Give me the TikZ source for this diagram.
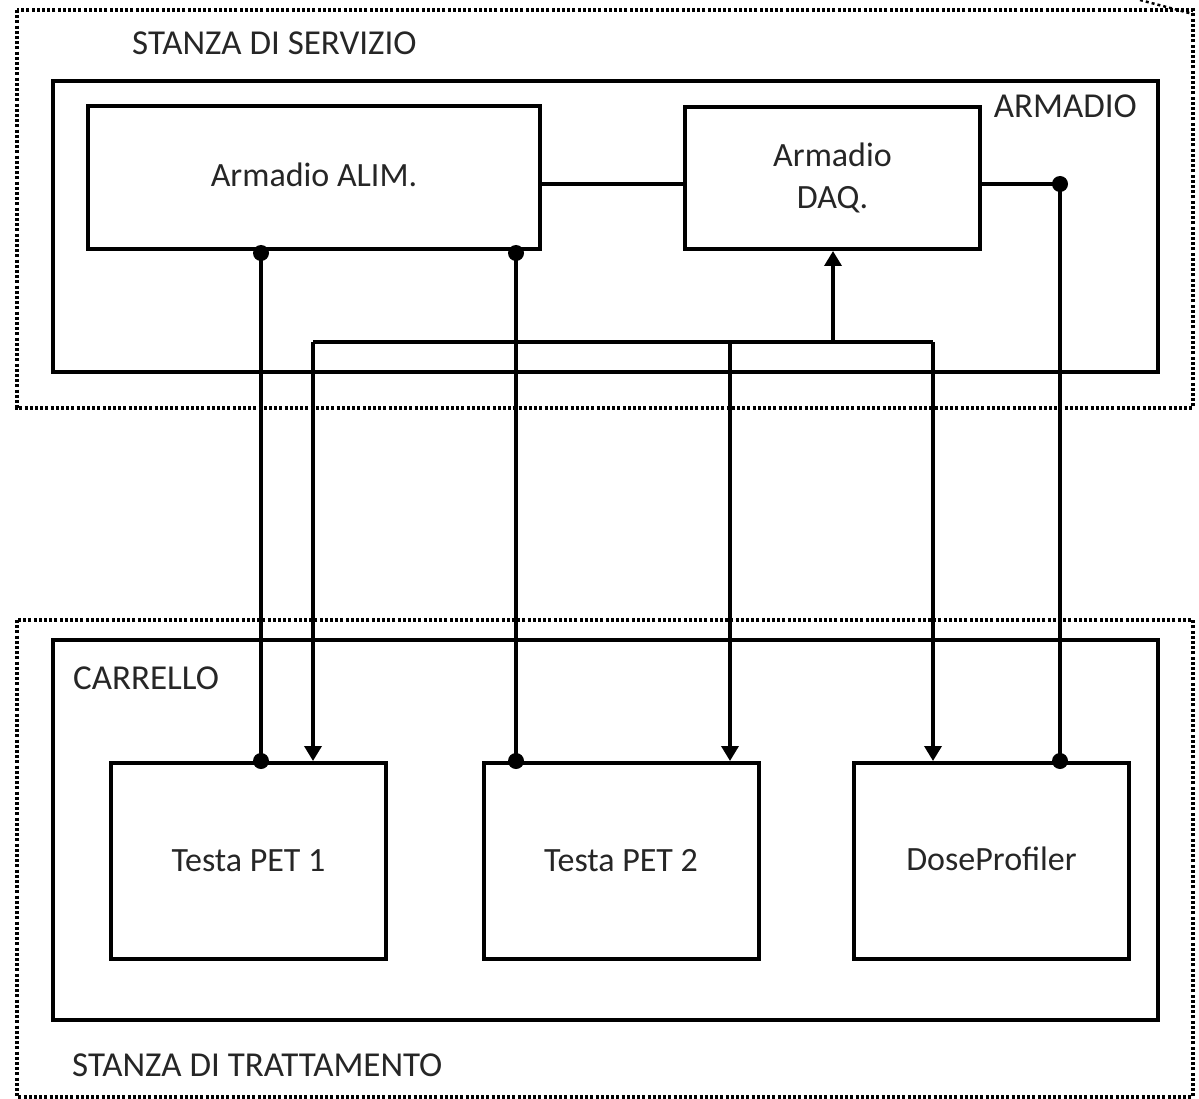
\documentclass[tikz,border=0pt]{standalone}
\usepackage{fontspec}
\setmainfont{Carlito}
\usetikzlibrary{arrows.meta}
\begin{document}
\begin{tikzpicture}[x=1pt,y=-1pt,
  box/.style={draw,line width=4pt,inner sep=0pt,align=center,font=\fontsize{34}{42}\selectfont,text=black!85},
  room/.style={draw,line width=3.6pt,dash pattern=on 3pt off 2.2pt},
  conn/.style={line width=3.5pt},
  arr/.style={conn,-{Triangle[width=17pt,length=15pt]}},
  lbl/.style={font=\fontsize{35}{40}\selectfont,text=black!85,inner sep=0pt},
  dotc/.style={fill,radius=8pt}]
\useasboundingbox (0,0) rectangle (1199,1099);
% rooms
\draw[room] (17,10) rectangle (1193,408);
\draw[room] (17,620) rectangle (1193,1097);
\draw[line width=2.5pt,dashed] (1140,0) -- (1193,14);
% containers
\draw[line width=4pt] (53,81) rectangle (1158,372);
\draw[line width=4pt] (53,640) rectangle (1158,1020);
\node[lbl,anchor=west] (ts) at (132,43) {STANZA DI SERVIZIO};
\node[lbl,anchor=east] (ta) at (1137,106) {ARMADIO};
\node[lbl,anchor=west] (tc) at (73,678) {CARRELLO};
\node[lbl,anchor=west] (tt) at (72,1065) {STANZA DI TRATTAMENTO};
% boxes
\node[box,minimum width=452pt,minimum height=143pt] (alim) at (314,177.5) {\raisebox{6pt}{Armadio ALIM.}};
\node[box,minimum width=295pt,minimum height=142pt] (daq) at (832.5,178) {Armadio\\DAQ.};
\node[box,minimum width=275pt,minimum height=196pt] (pet1) at (248.5,861) {Testa PET 1};
\node[box,minimum width=275pt,minimum height=196pt] (pet2) at (621,861) {Testa PET 2};
\node[box,minimum width=275pt,minimum height=196pt] (dose) at (991.5,861) {\raisebox{4pt}{DoseProfiler}};
% coordinates
\coordinate (a1) at (261,253);
\coordinate (a2) at (516,253);
\coordinate (bus) at (833,342);
\coordinate (bl) at (313,342);
\coordinate (bm) at (730,342);
\coordinate (br) at (933,342);
\coordinate (dj) at (1060,184);
% connectors
\draw[conn] (alim.east |- dj) -- (daq.west |- dj);
\draw[conn] (daq.east |- dj) -- (dj) -- (dj |- dose.north);
\draw[conn] (a1) -- (a1 |- pet1.north);
\draw[conn] (a2) -- (a2 |- pet2.north);
\draw[conn] (bl) -- (br);
\draw[arr] (bus) -- (bus |- daq.south);
\draw[arr] (bl) -- (bl |- pet1.north);
\draw[arr] (bm) -- (bm |- pet2.north);
\draw[arr] (br) -- (br |- dose.north);
% junction dots
\fill[dotc] (a1) circle;
\fill[dotc] (a2) circle;
\fill[dotc] (dj) circle;
\fill[dotc] (a1 |- pet1.north) circle;
\fill[dotc] (a2 |- pet2.north) circle;
\fill[dotc] (dj |- dose.north) circle;
\end{tikzpicture}
\end{document}
